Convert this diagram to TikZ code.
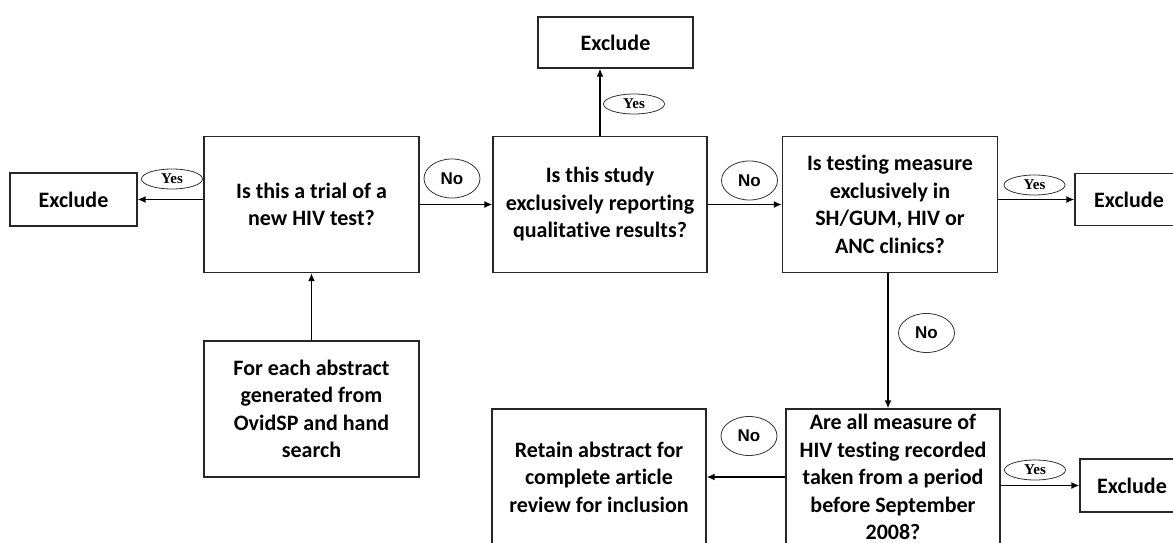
\documentclass[tikz,border=0pt]{standalone}
\usepackage{fontspec}
\setmainfont{Carlito}[Ligatures=NoCommon]
\newfontfamily\yesfont{Liberation Serif}
\newfontfamily\nofont{Liberation Sans}
\usetikzlibrary{arrows.meta,shapes.geometric}
\begin{document}
\begin{tikzpicture}[x=1pt,y=-1pt,
  stepbox/.style={draw=black!85,line width=1.2pt,rectangle,inner sep=0pt,align=center,
    font=\fontsize{22}{27.5}\selectfont\bfseries},
  flow/.style={line width=1.8pt,-{Latex[length=8pt,width=7pt]}},
  yeslabel/.style={ellipse,draw=black!80,line width=0.8pt,minimum width=61pt,
    minimum height=20pt,inner sep=0pt,font=\yesfont\bfseries\fontsize{15}{15}\selectfont},
  nolabel/.style={ellipse,draw=black!80,line width=0.8pt,minimum width=56pt,
    minimum height=39pt,inner sep=0pt,font=\nofont\bfseries\fontsize{17}{17}\selectfont}]
\useasboundingbox (0,0) rectangle (1173,543);

% decision and outcome boxes
\node[stepbox,minimum width=215pt,minimum height=136pt] (q1) at (311.5,204.5)
  {Is this a trial of a\\new HIV test?};
\node[stepbox,minimum width=215pt,minimum height=136pt] (src) at (311.5,409)
  {For each abstract\\generated from\\OvidSP and hand\\search};
\node[stepbox,minimum width=214pt,minimum height=136pt] (q2) at (600,204.5)
  {Is this study\\exclusively reporting\\qualitative results?};
\node[stepbox,minimum width=215pt,minimum height=136pt] (q3) at (890,204.5)
  {Is testing measure\\exclusively in\\SH/GUM, HIV or\\ANC clinics?};
\node[stepbox,minimum width=214pt,minimum height=136pt] (q4) at (893,477)
  {Are all measure of\\HIV testing recorded\\taken from a period\\before September\\2008?};
\node[stepbox,minimum width=214pt,minimum height=136pt] (ret) at (599,477)
  {Retain abstract for\\complete article\\review for inclusion};

\node[stepbox,minimum width=127pt,minimum height=53pt] (exl) at (73.5,199.5) {Exclude};
\node[stepbox,minimum width=155pt,minimum height=51pt] (ext) at (615.5,42.5) {Exclude};
\node[stepbox,minimum width=108pt,minimum height=52pt] (exr) at (1129,199.5) {Exclude};
\node[stepbox,minimum width=104pt,minimum height=53pt] (exb) at (1132,485.5) {Exclude};

% connectors
\draw[flow] (src.north) -- (q1.south);
\draw[flow] (q1.west |- exl.east) -- (exl.east);
\draw[flow] (q1.east) -- (q2.west);
\draw[flow] (q2.north) -- (q2.north |- ext.south);
\draw[flow] (q2.east) -- (q3.west);
\draw[flow] (q3.east |- exr.west) -- (exr.west);
\draw[flow] ([xshift=-2pt]q3.south) -- ([xshift=-2pt]q3.south |- q4.north);
\draw[flow] (q4.west) -- (ret.east);
\draw[flow] (q4.east |- exb.west) -- (exb.west);

% answer labels
\node[yeslabel] (y1) at (172,179) {Yes};
\node[nolabel]  (n1) at (452,178.5) {No};
\node[yeslabel] (y2) at (634,104) {Yes};
\node[nolabel]  (n2) at (749.5,180.5) {No};
\node[yeslabel] (y3) at (1034.5,185) {Yes};
\node[nolabel]  (n3) at (926.5,333) {No};
\node[nolabel]  (n4) at (749,436) {No};
\node[yeslabel] (y4) at (1035,470) {Yes};
\end{tikzpicture}
\end{document}
